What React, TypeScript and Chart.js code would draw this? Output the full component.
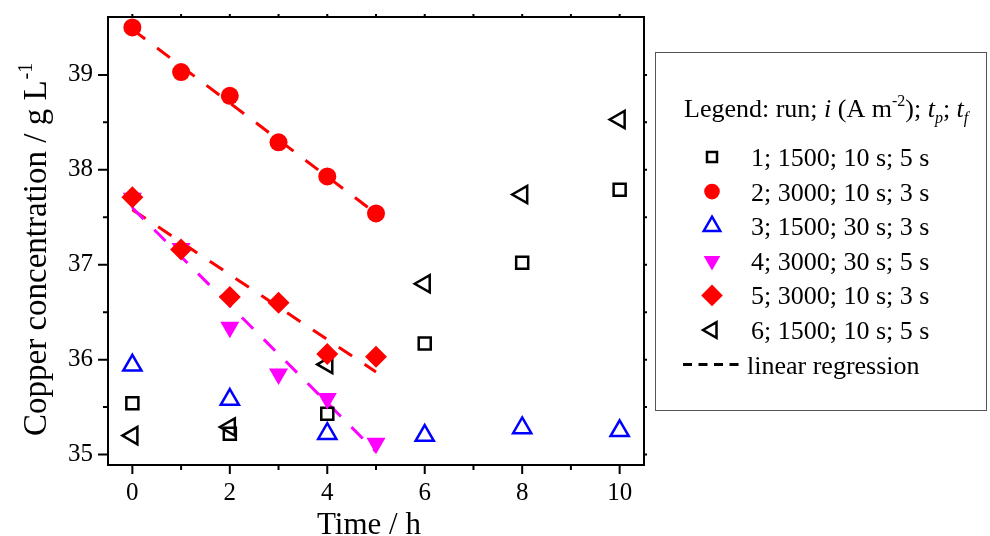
import React, { useEffect, useRef } from 'react';
import { Chart, registerables } from 'chart.js';

Chart.register(...registerables);

// ---------- data ----------
const timeShort = [0, 1, 2, 3, 4, 5];
const timeLong = [0, 2, 4, 6, 8, 10];

const run1 = [35.54, 35.22, 35.43, 36.17, 37.02, 37.79];
const run2 = [39.5, 39.03, 38.78, 38.29, 37.93, 37.54];
const run3 = [35.94, 35.58, 35.22, 35.2, 35.28, 35.25];
const run4 = [37.7, 37.17, 36.34, 35.85, 35.59, 35.12];
const run5 = [37.71, 37.16, 36.66, 36.6, 36.06, 36.03];
const run6 = [35.2, 35.29, 35.95, 36.8, 37.74, 38.53];

const regTime = [0, 5];
const reg2 = [39.48, 37.54];
const reg5 = [37.58, 35.87];
const reg4 = [37.6, 35.03];

const xTickValues = [0, 2, 4, 6, 8, 10];
const xMinorValues = [1, 3, 5, 7, 9];
const yTickValues = [35, 36, 37, 38, 39];
const yMinorValues = [35.5, 36.5, 37.5, 38.5];

const legendLabels = [
  '1; 1500; 10 s; 5 s',
  '2; 3000; 10 s; 3 s',
  '3; 1500; 30 s; 3 s',
  '4; 3000; 30 s; 5 s',
  '5; 3000; 10 s; 3 s',
  '6; 1500; 10 s; 5 s',
];
const regressionLabel = 'linear regression';
const xTitle = 'Time / h';
const yTitle = 'Copper concentration / g L';
const yTitleSup = '-1';

const FONT = "'Liberation Serif', 'Times New Roman', Times, serif";

type Seg = { t: string; it?: boolean; sz?: number; dy?: number };

function drawRich(ctx: CanvasRenderingContext2D, x: number, y: number, segs: Seg[], base: number) {
  let cx = x;
  for (const s of segs) {
    const size = s.sz ?? base;
    ctx.font = `${s.it ? 'italic ' : ''}${size}px ${FONT}`;
    ctx.fillText(s.t, cx, y + (s.dy ?? 0));
    cx += ctx.measureText(s.t).width;
  }
}

function drawMarker(ctx: CanvasRenderingContext2D, kind: string, x: number, y: number) {
  ctx.save();
  ctx.beginPath();
  if (kind === 'square') {
    ctx.lineWidth = 2.5;
    ctx.strokeStyle = '#000';
    ctx.strokeRect(x - 5, y - 5, 10, 10);
  } else if (kind === 'circle') {
    ctx.fillStyle = '#ff0000';
    ctx.arc(x, y, 7.8, 0, Math.PI * 2);
    ctx.fill();
  } else if (kind === 'up') {
    const r = 9.5;
    ctx.lineWidth = 2.5;
    ctx.strokeStyle = '#0000ff';
    ctx.moveTo(x, y - r);
    ctx.lineTo(x + 0.866 * r, y + 0.5 * r);
    ctx.lineTo(x - 0.866 * r, y + 0.5 * r);
    ctx.closePath();
    ctx.stroke();
  } else if (kind === 'down') {
    const r = 9.6;
    ctx.fillStyle = '#ff00ff';
    ctx.moveTo(x, y + r);
    ctx.lineTo(x + 0.866 * r, y - 0.5 * r);
    ctx.lineTo(x - 0.866 * r, y - 0.5 * r);
    ctx.closePath();
    ctx.fill();
  } else if (kind === 'diamond') {
    const r = 10.8;
    ctx.fillStyle = '#ff0000';
    ctx.moveTo(x, y - r);
    ctx.lineTo(x + r, y);
    ctx.lineTo(x, y + r);
    ctx.lineTo(x - r, y);
    ctx.closePath();
    ctx.fill();
  } else if (kind === 'left') {
    const r = 9;
    ctx.lineWidth = 2.5;
    ctx.strokeStyle = '#000';
    ctx.moveTo(x - r, y);
    ctx.lineTo(x + 0.5 * r, y - 0.866 * r);
    ctx.lineTo(x + 0.5 * r, y + 0.866 * r);
    ctx.closePath();
    ctx.stroke();
  }
  ctx.restore();
}

const legendKinds = ['square', 'circle', 'up', 'down', 'diamond', 'left'];

const decorPlugin = {
  id: 'decor',
  afterDraw(chart: any) {
    const { ctx, chartArea: a, scales } = chart;
    const xs = scales.x;
    const ys = scales.y;
    ctx.save();
    // frame
    ctx.strokeStyle = '#000';
    ctx.lineWidth = 2;
    ctx.strokeRect(a.left, a.top, a.right - a.left, a.bottom - a.top);
    // tick marks
    ctx.lineWidth = 2;
    ctx.beginPath();
    xTickValues.forEach((v) => {
      const p = xs.getPixelForValue(v);
      ctx.moveTo(p, a.bottom);
      ctx.lineTo(p, a.bottom + 9);
      ctx.moveTo(p, a.top);
      ctx.lineTo(p, a.top - 3);
    });
    xMinorValues.forEach((v) => {
      const p = xs.getPixelForValue(v);
      ctx.moveTo(p, a.bottom);
      ctx.lineTo(p, a.bottom + 5);
      ctx.moveTo(p, a.top);
      ctx.lineTo(p, a.top - 3);
    });
    yTickValues.forEach((v) => {
      const p = ys.getPixelForValue(v);
      ctx.moveTo(a.left, p);
      ctx.lineTo(a.left - 10, p);
      ctx.moveTo(a.right, p);
      ctx.lineTo(a.right + 3, p);
    });
    yMinorValues.forEach((v) => {
      const p = ys.getPixelForValue(v);
      ctx.moveTo(a.left, p);
      ctx.lineTo(a.left - 5, p);
      ctx.moveTo(a.right, p);
      ctx.lineTo(a.right + 3, p);
    });
    ctx.stroke();

    // axis titles
    ctx.fillStyle = '#000';
    ctx.textBaseline = 'alphabetic';
    ctx.textAlign = 'center';
    ctx.font = `31px ${FONT}`;
    ctx.fillText(xTitle, 369, 534);

    ctx.save();
    ctx.translate(46, 436);
    ctx.rotate(-Math.PI / 2);
    ctx.textAlign = 'left';
    ctx.font = `33px ${FONT}`;
    ctx.fillText(yTitle, 0, 0);
    const w = ctx.measureText(yTitle).width;
    ctx.font = `20px ${FONT}`;
    ctx.fillText(yTitleSup, w + 1, -14);
    ctx.restore();

    // legend box
    ctx.lineWidth = 1;
    ctx.strokeStyle = '#555';
    ctx.strokeRect(655.5, 52.5, 331, 358);
    ctx.textAlign = 'left';
    ctx.fillStyle = '#000';
    drawRich(
      ctx,
      684,
      117,
      [
        { t: 'Legend: run; ' },
        { t: 'i', it: true },
        { t: ' (A m' },
        { t: '-2', sz: 16, dy: -11 },
        { t: '); ' },
        { t: 't', it: true },
        { t: 'p', it: true, sz: 16, dy: 6 },
        { t: '; ' },
        { t: 't', it: true },
        { t: 'f', it: true, sz: 16, dy: 6 },
      ],
      26
    );
    const rowStep = 34.6;
    legendLabels.forEach((lab, i) => {
      const cy = 157 + rowStep * i;
      drawMarker(ctx, legendKinds[i], 712, cy);
      ctx.fillStyle = '#000';
      ctx.font = `26px ${FONT}`;
      ctx.fillText(lab, 751, cy + 9);
    });
    const ly = 157 + rowStep * 6;
    ctx.save();
    ctx.strokeStyle = '#000';
    ctx.lineWidth = 3;
    ctx.setLineDash([9, 6.5]);
    ctx.beginPath();
    ctx.moveTo(683, ly);
    ctx.lineTo(739, ly);
    ctx.stroke();
    ctx.restore();
    ctx.font = `26px ${FONT}`;
    ctx.fillText(regressionLabel, 747, ly + 9);
    ctx.restore();
  },
};

function pts(xs: number[], ys: number[]) {
  return xs.map((x, i) => ({ x, y: ys[i] }));
}

export default function App() {
  const ref = useRef<HTMLCanvasElement | null>(null);
  useEffect(() => {
    if (!ref.current) return;
    const open = 'rgba(0,0,0,0)';
    const lineBase = {
      type: 'line' as const,
      showLine: true,
      pointRadius: 0,
      borderWidth: 3,
      borderDash: [16, 15],
      fill: false,
      order: 10,
    };
    const chart = new Chart(ref.current, {
      type: 'scatter',
      data: {
        datasets: [
          { ...lineBase, label: 'reg2', data: pts(regTime, reg2), borderColor: '#ff0000' },
          { ...lineBase, label: 'reg4', data: pts(regTime, reg4), borderColor: '#ff00ff' },
          { ...lineBase, label: 'reg5', data: pts(regTime, reg5), borderColor: '#ff0000' },
          {
            label: legendLabels[4],
            data: pts(timeShort, run5),
            pointStyle: 'rectRot',
            pointRadius: 11,
            backgroundColor: '#ff0000',
            borderColor: '#ff0000',
            borderWidth: 0,
            order: 1,
          },
          {
            label: legendLabels[3],
            data: pts(timeShort, run4),
            pointStyle: 'triangle',
            pointRotation: 180,
            pointRadius: 11,
            backgroundColor: '#ff00ff',
            borderColor: '#ff00ff',
            borderWidth: 0,
            order: 2,
          },
          {
            label: legendLabels[1],
            data: pts(timeShort, run2),
            pointStyle: 'circle',
            pointRadius: 9,
            backgroundColor: '#ff0000',
            borderColor: '#ff0000',
            borderWidth: 0,
            order: 3,
          },
          {
            label: legendLabels[0],
            data: pts(timeLong, run1),
            pointStyle: 'rect',
            pointRadius: 8.5,
            backgroundColor: open,
            borderColor: '#000',
            borderWidth: 2.5,
            order: 4,
          },
          {
            label: legendLabels[2],
            data: pts(timeLong, run3),
            pointStyle: 'triangle',
            pointRadius: 10.5,
            backgroundColor: open,
            borderColor: '#0000ff',
            borderWidth: 2.5,
            order: 4,
          },
          {
            label: legendLabels[5],
            data: pts(timeLong, run6),
            pointStyle: 'triangle',
            pointRotation: -90,
            pointRadius: 10,
            backgroundColor: open,
            borderColor: '#000',
            borderWidth: 2.5,
            order: 4,
          },
        ],
      },
      options: {
        animation: false,
        responsive: true,
        maintainAspectRatio: false,
        layout: { padding: { left: 0, top: 17, right: 346, bottom: 0 } },
        plugins: { legend: { display: false }, tooltip: { enabled: false }, title: { display: false } },
        scales: {
          x: {
            type: 'linear',
            min: -0.5,
            max: 10.5,
            grid: { display: false },
            border: { display: false },
            afterBuildTicks: (s: any) => {
              s.ticks = xTickValues.map((v) => ({ value: v }));
            },
            afterFit: (s: any) => {
              s.height = 71;
              s.paddingLeft = 0;
              s.paddingRight = 0;
            },
            ticks: {
              color: '#000',
              padding: 5,
              maxRotation: 0,
              font: { family: FONT, size: 25 },
              callback: (v: any) => String(v),
            },
          },
          y: {
            type: 'linear',
            min: 34.89,
            max: 39.61,
            grid: { display: false },
            border: { display: false },
            afterBuildTicks: (s: any) => {
              s.ticks = yTickValues.map((v) => ({ value: v }));
            },
            afterFit: (s: any) => {
              s.width = 108;
              s.paddingTop = 0;
              s.paddingBottom = 0;
            },
            ticks: {
              color: '#000',
              padding: 7,
              font: { family: FONT, size: 25 },
              callback: (v: any) => String(v),
            },
          },
        },
      },
      plugins: [decorPlugin],
    } as any);
    return () => chart.destroy();
  }, []);
  return (
    <div style={{ position: 'fixed', left: 0, top: 0, width: 990, height: 536, background: '#fff' }}>
      <canvas ref={ref} />
    </div>
  );
}
